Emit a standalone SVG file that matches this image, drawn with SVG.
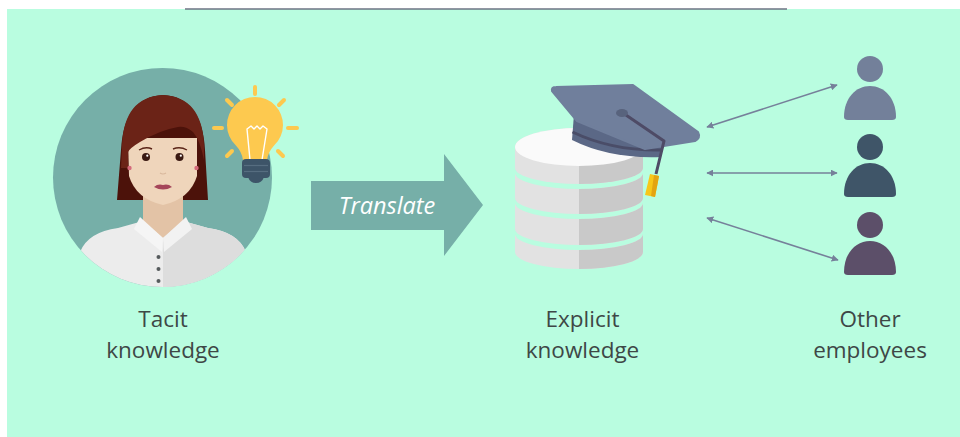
<svg xmlns="http://www.w3.org/2000/svg" width="960" height="437" viewBox="0 0 960 437">
  <defs>
    <style>
      .label { font-family: "Open Sans", "Liberation Sans", sans-serif; font-size: 22.5px; fill: #3e4746; text-anchor: middle; }
      .verb { font-family: "Open Sans", "Liberation Sans", sans-serif; font-size: 23.5px; font-style: italic; fill: #ffffff; text-anchor: middle; }
      .link { stroke: #76809a; stroke-width: 1.6; fill: none; marker-start: url(#head); marker-end: url(#head); }
      .ray { stroke: #fdc94f; stroke-width: 4; stroke-linecap: round; }
    </style>
    <marker id="head" viewBox="0 0 10 10" refX="9" refY="5" markerWidth="7" markerHeight="7" markerUnits="userSpaceOnUse" orient="auto-start-reverse">
      <path d="M0 0 L10 5 L0 10 Z" fill="#76809a"/>
    </marker>
    <clipPath id="disc">
      <circle cx="162.5" cy="177.5" r="109.5"/>
    </clipPath>
    <clipPath id="rightHalf">
      <rect x="579" y="100" width="80" height="200"/>
    </clipPath>
    <clipPath id="shirtRight">
      <rect x="163" y="200" width="120" height="100"/>
    </clipPath>
    <!-- stacked cylinder slices -->
    <g id="stack">
      <path d="M515 147 A64 19 0 0 1 643 147 L643 168 A64 16 0 0 1 515 168 Z"/>
      <path d="M515 173 A64 16 0 0 0 643 173 L643 198 A64 16 0 0 1 515 198 Z"/>
      <path d="M515 203 A64 16 0 0 0 643 203 L643 229 A64 16 0 0 1 515 229 Z"/>
      <path d="M515 234 A64 16 0 0 0 643 234 L643 252 A64 17 0 0 1 515 252 Z"/>
    </g>
    <g id="person">
      <path d="M-26 31 C-26 12 -14 0 0 0 C14 0 26 12 26 31 Q26 34 22 34 L-22 34 Q-26 34 -26 31 Z"/>
    </g>
  </defs>

  <rect x="0" y="0" width="960" height="437" fill="#ffffff"/>
  <rect x="7" y="9" width="953" height="428" fill="#b9fde0"/>
  <line x1="185" y1="9" x2="787" y2="9" stroke="#6e7385" stroke-width="1.6"/>

  <!-- Tacit knowledge: portrait with light bulb -->
  <g id="tacit">
    <circle cx="162.5" cy="177.5" r="109.5" fill="#76afa8"/>
    <g clip-path="url(#disc)">
      <!-- hair, back -->
      <path d="M117 200 L121 150 Q124 97 163 95 Q202 97 205 150 L208 200 Z" fill="#4c120a"/>
      <!-- neck -->
      <path d="M143 190 L183 190 L183 224 L163 240 L143 224 Z" fill="#e3c3a6"/>
      <!-- face -->
      <path d="M128 138 L129 176 Q136 199 163 205 Q190 199 197 176 L197 138 Z" fill="#efd5bb"/>
      <!-- hair, top and fringe -->
      <path d="M121 168 L122 145 Q124 97 163 95 Q202 97 204 145 L204 160 Q200 140 193 132 Q186 126 178 127 Q160 130 140 142 Q130 148 128 152 L128 168 Z" fill="#6b2317"/>
      <!-- earrings -->
      <circle cx="129.5" cy="168" r="2.2" fill="#d56b7c"/>
      <circle cx="196.5" cy="168" r="2.2" fill="#d56b7c"/>
      <!-- brows -->
      <path d="M139 150 Q146 146 152 149" stroke="#5a2418" stroke-width="1.4" fill="none"/>
      <path d="M173 149 Q180 146 187 150" stroke="#5a2418" stroke-width="1.4" fill="none"/>
      <!-- eyes -->
      <circle cx="146" cy="157" r="4" fill="#3a1912"/>
      <circle cx="179.5" cy="157" r="4" fill="#3a1912"/>
      <circle cx="147.3" cy="155.7" r="1.1" fill="#ffffff"/>
      <circle cx="180.8" cy="155.7" r="1.1" fill="#ffffff"/>
      <!-- nose -->
      <path d="M160 173 Q163 175 166 173" stroke="#d9b89c" stroke-width="1.2" fill="none"/>
      <!-- lips -->
      <path d="M154 187 Q158 183.5 163 185 Q168 183.5 172 187 Q163 192 154 187 Z" fill="#a5465a"/>
      <!-- shirt -->
      <path d="M80 300 L80 252 Q88 232 118 228 L143 221 L163 238 L183 221 L208 228 Q238 232 246 252 L246 300 Z" fill="#ececec"/>
      <path d="M80 300 L80 252 Q88 232 118 228 L143 221 L163 238 L183 221 L208 228 Q238 232 246 252 L246 300 Z" fill="#dddddd" clip-path="url(#shirtRight)"/>
      <!-- collar -->
      <path d="M140 217 L163 238 L162 252 L134 229 Z" fill="#f5f5f5"/>
      <path d="M186 217 L163 238 L164 252 L192 229 Z" fill="#f2f2f2"/>
      <!-- buttons -->
      <circle cx="158.5" cy="257" r="2" fill="#555a5c"/>
      <circle cx="158.5" cy="269" r="2" fill="#555a5c"/>
      <circle cx="158.5" cy="281" r="2" fill="#555a5c"/>
    </g>
    <!-- light bulb -->
    <g id="bulb">
      <line class="ray" x1="255" y1="87" x2="255" y2="94"/>
      <line class="ray" x1="214" y1="128" x2="222" y2="128"/>
      <line class="ray" x1="288" y1="128" x2="297" y2="128"/>
      <line class="ray" x1="227" y1="100" x2="232" y2="105"/>
      <line class="ray" x1="284" y1="100" x2="279" y2="105"/>
      <line class="ray" x1="227" y1="156" x2="232" y2="151"/>
      <line class="ray" x1="283" y1="156" x2="278" y2="151"/>
      <path d="M235.5 145 A28 28 0 1 1 274.5 145 Q268 152 267 160 L243 160 Q242 152 235.5 145 Z" fill="#fdc94f"/>
      <path d="M250 160 L247 129 L251 126 L254 129 L257 126 L260 129 L263 126 L267 129 L262 160" stroke="#ffffff" stroke-width="1.4" fill="none" stroke-linejoin="round"/>
      <rect x="242" y="159" width="28" height="19" rx="4" fill="#3d5468"/>
      <line x1="244" y1="165.5" x2="268" y2="165.5" stroke="#566d80" stroke-width="1.2"/>
      <line x1="244" y1="171.5" x2="268" y2="171.5" stroke="#566d80" stroke-width="1.2"/>
      <path d="M248 177 L264 177 Q262 183 256 183 Q250 183 248 177 Z" fill="#3d5468"/>
    </g>
  </g>

  <!-- connectors -->
  <g id="connectors">
    <path d="M311 181 L444 181 L444 154 L483 205 L444 256 L444 230 L311 230 Z" fill="#76afa8"/>
    <text class="verb" x="387" y="214">Translate</text>
    <line class="link" x1="707" y1="127" x2="837" y2="85"/>
    <line class="link" x1="707" y1="173" x2="837" y2="173"/>
    <line class="link" x1="707" y1="218" x2="838" y2="260"/>
  </g>

  <!-- Explicit knowledge: database with mortarboard -->
  <g id="explicit">
    <use href="#stack" fill="#e2e2e2"/>
    <use href="#stack" fill="#c9c9c9" clip-path="url(#rightHalf)"/>
    <ellipse cx="579" cy="147" rx="64" ry="19" fill="#fafafa"/>
    <!-- cap -->
    <path d="M574 114 L572 140 Q610 159 661 157 L663 138 Z" fill="#5b6886"/>
    <path d="M572.5 132 Q612 151 662 150" stroke="#4a4d68" stroke-width="3" fill="none"/>
    <path d="M552 91 Q551 87 556 87 L633 85 L698 132 Q701 138 695 141 L645 149 L577 121 Z" fill="#707f9c" stroke="#707f9c" stroke-width="2" stroke-linejoin="round"/>
    <path d="M623 113 L664 141 L656 174" stroke="#4e4b66" stroke-width="3" fill="none" stroke-linejoin="round"/>
    <ellipse cx="622" cy="113" rx="6" ry="4" fill="#58637d"/>
    <path d="M650 174 L659 176 L655 197 L645 195 Z" fill="#f7c71a"/>
    <path d="M654 175 L659 176 L655 197 L651 196 Z" fill="#e3a412"/>
  </g>

  <!-- Other employees -->
  <g id="employees">
    <circle cx="870" cy="69" r="13" fill="#73809a"/>
    <use href="#person" x="870" y="86" fill="#73809a"/>
    <circle cx="870" cy="147" r="13" fill="#3f5568"/>
    <use href="#person" x="870" y="163" fill="#3f5568"/>
    <circle cx="870" cy="225" r="13" fill="#5c4f69"/>
    <use href="#person" x="870" y="241" fill="#5c4f69"/>
  </g>

  <g id="labels">
    <text class="label" x="163" y="327"><tspan x="163">Tacit</tspan><tspan x="163" dy="31">knowledge</tspan></text>
    <text class="label" x="582.5" y="327"><tspan x="582.5">Explicit</tspan><tspan x="582.5" dy="31">knowledge</tspan></text>
    <text class="label" x="870" y="327"><tspan x="870">Other</tspan><tspan x="870" dy="31">employees</tspan></text>
  </g>
</svg>
